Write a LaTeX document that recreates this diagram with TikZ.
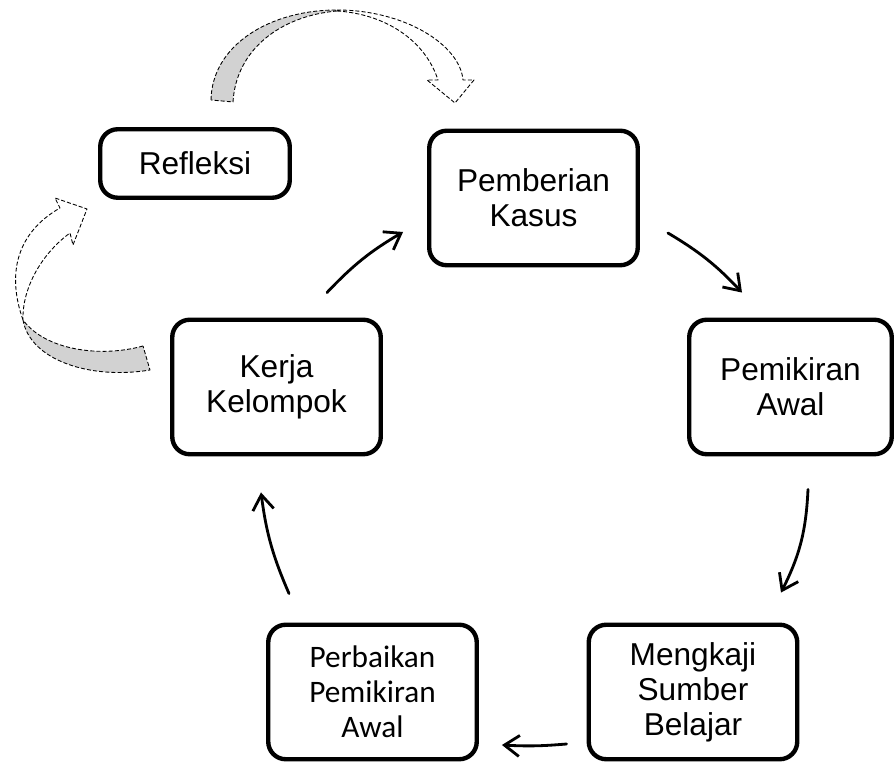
\documentclass[tikz,border=0pt]{standalone}
\usepackage{fontspec}
\setmainfont{Liberation Sans}
\newfontfamily\calibri{Carlito}
\usetikzlibrary{arrows.meta}

\begin{document}
\begin{tikzpicture}[>={Straight Barb[length=3mm,width=4.2mm]}]
\tikzset{
  box/.style={draw, line width=2.5pt, rounded corners=0.35cm, align=center,
    minimum width=4.17cm, minimum height=2.69cm, inner sep=2pt,
    font=\fontsize{18}{20}\selectfont},
  flow/.style={->, line width=1.6pt, line cap=round},
  ribbon/.style={draw, dash pattern=on 2.3pt off 1.2pt, line width=0.5pt, line join=round}
}
\useasboundingbox (0,0) rectangle (17.92,15.28);

% the six steps
\node[box, minimum width=3.79cm, minimum height=1.37cm] (refl) at (3.90,12.01) {Refleksi};
\node[box] (pemb) at (10.67,11.32) {Pemberian\\Kasus};
\node[box, minimum width=4.05cm] (pemik) at (15.81,7.54) {Pemikiran\\Awal};
\node[box] (mengk) at (13.86,1.44) {Mengkaji\\Sumber\\Belajar};
\node[box, font=\calibri\fontsize{17.8}{19.8}\selectfont] (perb) at (7.45,1.44) {Perbaikan\\Pemikiran\\Awal};
\node[box] (kerja) at (5.53,7.54) {Kerja\\Kelompok};

% cycle arrows
\draw[flow] ([shift={(1.01,0.50)}]kerja.north) to[bend left=8] ([shift={(-0.48,-0.68)}]pemb.west);
\draw[flow] ([shift={(0.56,-0.70)}]pemb.east) to[bend left=8] ([shift={(-0.97,0.50)}]pemik.north);
\draw[flow] ([shift={(0.35,-0.66)}]pemik.south) to[bend left=12] ([shift={(1.76,0.60)}]mengk.north);
\draw[flow] ([shift={(-0.40,-1.04)}]mengk.west) to[bend left=4] ([shift={(0.46,-1.06)}]perb.east);
\draw[flow] ([shift={(-1.67,0.58)}]perb.north) to[bend left=8] ([shift={(-0.31,-0.72)}]kerja.south);

% curved ribbon arrow over the top
\filldraw[ribbon, fill=white] (6.74,15.08) .. controls (8.10,15.08) and (9.20,14.38) .. (9.26,13.68)
  -- (9.48,13.68) -- (9.10,13.22) -- (8.54,13.68) -- (8.76,13.68)
  .. controls (8.50,14.48) and (7.70,15.00) .. (6.74,15.06) -- cycle;
\filldraw[ribbon, fill=gray!35] (4.22,13.28) .. controls (4.24,14.38) and (5.40,15.08) .. (6.74,15.08)
  -- (6.74,15.06) .. controls (5.60,14.96) and (4.72,14.28) .. (4.66,13.24) -- cycle;

% curved ribbon arrow on the left
\filldraw[ribbon, fill=white] (0.46,8.88) .. controls (0.12,9.84) and (0.36,10.64) .. (1.20,11.12)
  -- (1.10,11.32) -- (1.74,11.10) -- (1.46,10.38) -- (1.40,10.62)
  .. controls (0.80,10.18) and (0.44,9.48) .. (0.46,8.88) -- cycle;
\filldraw[ribbon, fill=gray!35] (2.86,8.36) .. controls (2.00,8.12) and (0.90,8.28) .. (0.46,8.88)
  .. controls (0.60,8.08) and (1.80,7.68) .. (3.00,7.88) -- cycle;
\end{tikzpicture}
\end{document}
